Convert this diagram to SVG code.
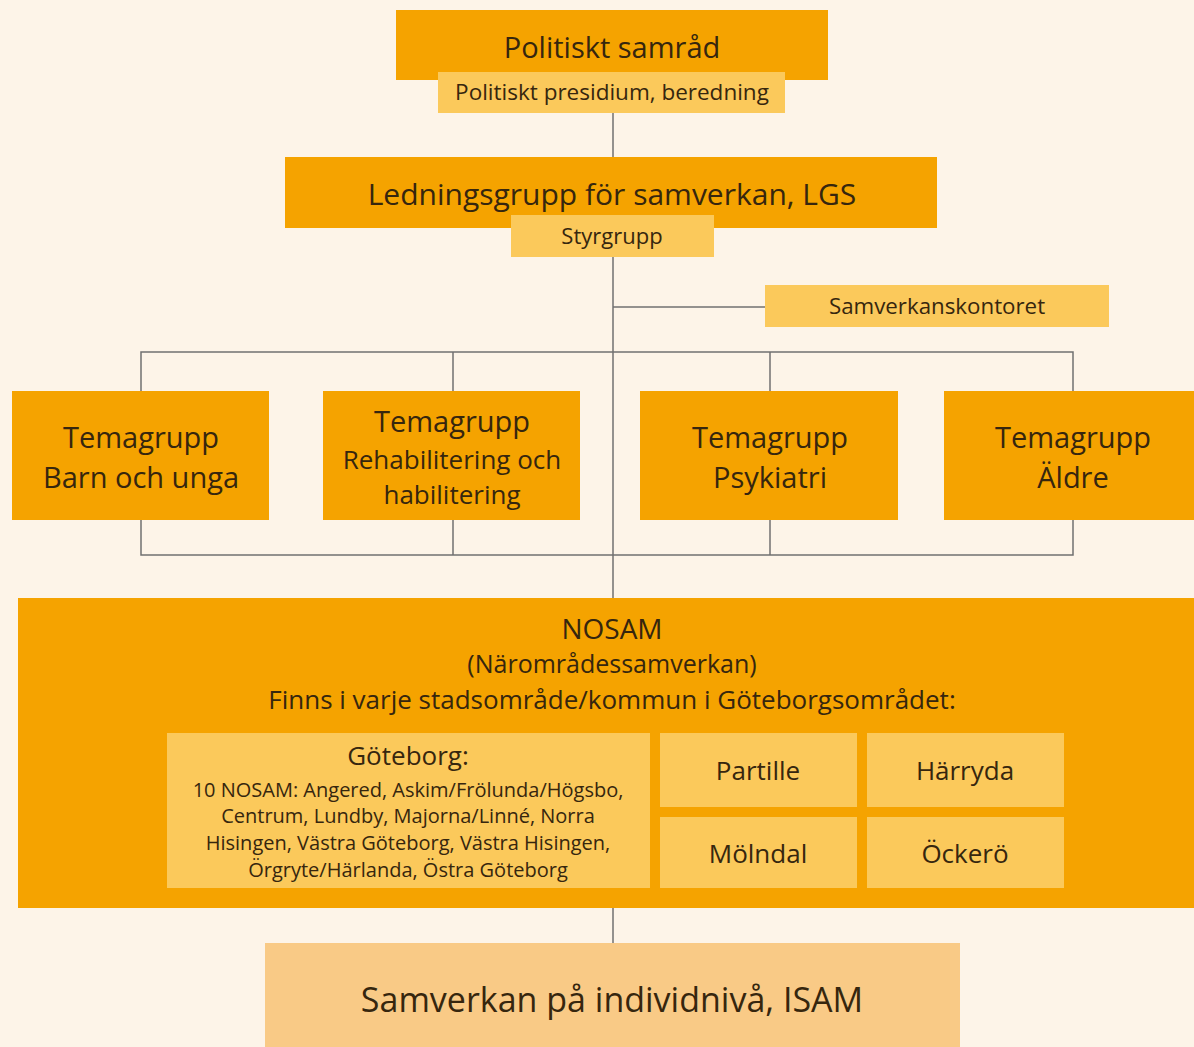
<svg xmlns="http://www.w3.org/2000/svg" width="1194" height="1047" viewBox="0 0 1194 1047">
<style>
.bg{fill:#FDF4E8}
.o{fill:#F5A300}
.l{fill:#FBC95B}
.p{fill:#F9CA86}
.t{font-family:"Open Sans","Noto Sans","Liberation Sans",sans-serif;fill:#36260E;text-anchor:middle}
.c{stroke:#707070;stroke-width:1.5;fill:none}
</style>
<rect class="bg" x="0" y="0" width="1194" height="1047"/>
<g id="connectors">
<line class="c" x1="613" y1="110" x2="613" y2="160"/>
<line class="c" x1="613" y1="255" x2="613" y2="600"/>
<line class="c" x1="613" y1="307" x2="766" y2="307"/>
<polyline class="c" points="141,392 141,352 1073,352 1073,392"/>
<line class="c" x1="453" y1="352" x2="453" y2="392"/>
<line class="c" x1="770" y1="352" x2="770" y2="392"/>
<polyline class="c" points="141,519 141,555 1073,555 1073,519"/>
<line class="c" x1="453" y1="519" x2="453" y2="555"/>
<line class="c" x1="770" y1="519" x2="770" y2="555"/>
<line class="c" x1="613" y1="906" x2="613" y2="945"/>
</g>
<g id="politiskt-samrad">
<rect class="o" x="396" y="10" width="432" height="70"/>
<text class="t" x="612" y="58" font-size="29">Politiskt samråd</text>
</g>
<g id="politiskt-presidium">
<rect class="l" x="438" y="72" width="347" height="41"/>
<text class="t" x="612" y="100" font-size="22.5">Politiskt presidium, beredning</text>
</g>
<g id="lgs">
<rect class="o" x="285" y="157" width="652" height="71"/>
<text class="t" x="612" y="205" font-size="30">Ledningsgrupp för samverkan, LGS</text>
</g>
<g id="styrgrupp">
<rect class="l" x="511" y="215" width="203" height="42"/>
<text class="t" x="612" y="244" font-size="22">Styrgrupp</text>
</g>
<g id="samverkanskontoret">
<rect class="l" x="765" y="285" width="344" height="42"/>
<text class="t" x="937" y="314" font-size="22.3">Samverkanskontoret</text>
</g>
<g id="tema-barn">
<rect class="o" x="12" y="391" width="257" height="129"/>
<text class="t" x="141" y="448" font-size="29">Temagrupp</text>
<text class="t" x="141" y="488" font-size="29">Barn och unga</text>
</g>
<g id="tema-rehab">
<rect class="o" x="323" y="391" width="257" height="129"/>
<text class="t" x="452" y="432" font-size="29">Temagrupp</text>
<text class="t" x="452" y="469" font-size="26">Rehabilitering och</text>
<text class="t" x="452" y="504" font-size="26">habilitering</text>
</g>
<g id="tema-psykiatri">
<rect class="o" x="640" y="391" width="258" height="129"/>
<text class="t" x="770" y="448" font-size="29">Temagrupp</text>
<text class="t" x="770" y="488" font-size="29">Psykiatri</text>
</g>
<g id="tema-aldre">
<rect class="o" x="944" y="391" width="250" height="129"/>
<text class="t" x="1073" y="448" font-size="29">Temagrupp</text>
<text class="t" x="1073" y="488" font-size="29">Äldre</text>
</g>
<g id="nosam">
<rect class="o" x="18" y="598" width="1176" height="310"/>
<text class="t" x="612" y="639" font-size="28">NOSAM</text>
<text class="t" x="612" y="673" font-size="25">(Närområdessamverkan)</text>
<text class="t" x="612" y="709" font-size="26">Finns i varje stadsområde/kommun i Göteborgsområdet:</text>
</g>
<g id="goteborg">
<rect class="l" x="167" y="733" width="483" height="155"/>
<text class="t" x="408" y="765" font-size="26">Göteborg:</text>
<text class="t" x="408" y="797" font-size="20">10 NOSAM: Angered, Askim/Frölunda/Högsbo,</text>
<text class="t" x="408" y="823" font-size="20">Centrum, Lundby, Majorna/Linné, Norra</text>
<text class="t" x="408" y="850" font-size="20">Hisingen, Västra Göteborg, Västra Hisingen,</text>
<text class="t" x="408" y="877" font-size="20">Örgryte/Härlanda, Östra Göteborg</text>
</g>
<g id="partille">
<rect class="l" x="660" y="733" width="197" height="74"/>
<text class="t" x="758" y="780" font-size="26">Partille</text>
</g>
<g id="harryda">
<rect class="l" x="867" y="733" width="197" height="74"/>
<text class="t" x="965" y="780" font-size="26">Härryda</text>
</g>
<g id="molndal">
<rect class="l" x="660" y="817" width="197" height="71"/>
<text class="t" x="758" y="863" font-size="26">Mölndal</text>
</g>
<g id="ockero">
<rect class="l" x="867" y="817" width="197" height="71"/>
<text class="t" x="965" y="863" font-size="26">Öckerö</text>
</g>
<g id="isam">
<rect class="p" x="265" y="943" width="695" height="104"/>
<text class="t" x="612" y="1012" font-size="34">Samverkan på individnivå, ISAM</text>
</g>
</svg>
